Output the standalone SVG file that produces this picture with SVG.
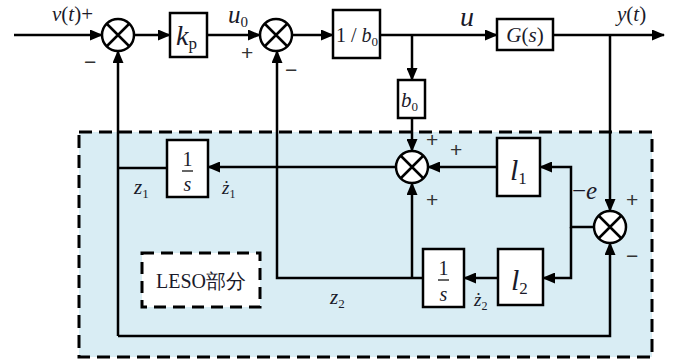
<svg xmlns="http://www.w3.org/2000/svg" width="677" height="361" viewBox="0 0 677 361">
<style>
.ln{fill:none;stroke:#000;stroke-width:2.5}
.bx{fill:#fff;stroke:#000;stroke-width:2.5}
.sj{fill:#fff;stroke:#000;stroke-width:2.5}
.t{font-family:"Liberation Serif",serif;fill:#1a1a2a}
.i{font-style:italic}
.sg{font-family:"Liberation Sans",sans-serif;fill:#333;font-size:21px}
</style>
<defs>
<marker id="a" markerWidth="13" markerHeight="11" refX="12" refY="5.5" orient="auto" markerUnits="userSpaceOnUse">
<path d="M0,0 L13,5.5 L0,11 Z" fill="#000"/>
</marker>
<symbol id="x" viewBox="-17 -17 34 34" overflow="visible">
<circle r="16" class="sj"/>
<path d="M-11,-11 L11,11 M-11,11 L11,-11" stroke="#000" stroke-width="2.5"/>
</symbol>
</defs>
<rect width="677" height="361" fill="#fff"/>
<g id="leso-region">
<rect x="79" y="132" width="573" height="225" fill="#d9edf4" stroke="#000" stroke-width="3" stroke-dasharray="13 7"/>
</g>
<g id="connectors">
<path class="ln" d="M14,35 H102" marker-end="url(#a)"/>
<path class="ln" d="M134,35 H170" marker-end="url(#a)"/>
<path class="ln" d="M207,35 H260" marker-end="url(#a)"/>
<path class="ln" d="M292,35 H333" marker-end="url(#a)"/>
<path class="ln" d="M380,35 H497" marker-end="url(#a)"/>
<path class="ln" d="M412,35 V80" marker-end="url(#a)"/>
<path class="ln" d="M553,35 H664" marker-end="url(#a)"/>
<path class="ln" d="M610,35 V211" marker-end="url(#a)"/>
<path class="ln" d="M412,118 V151" marker-end="url(#a)"/>
<path class="ln" d="M594,227 H571 V167 H540" marker-end="url(#a)"/>
<path class="ln" d="M571,227 V278 H543" marker-end="url(#a)"/>
<path class="ln" d="M497,167 H428" marker-end="url(#a)"/>
<path class="ln" d="M498,278 H464" marker-end="url(#a)"/>
<path class="ln" d="M423,278 H277 V51" marker-end="url(#a)"/>
<path class="ln" d="M412,278 V183" marker-end="url(#a)"/>
<path class="ln" d="M396,167 H208" marker-end="url(#a)"/>
<path class="ln" d="M167,168 H118"/>
<path class="ln" d="M118,336 V51" marker-end="url(#a)"/>
<path class="ln" d="M118,336 H610 V243" marker-end="url(#a)"/>
</g>
<g id="sum1"><use href="#x" x="101" y="18" width="34" height="34"/></g>
<g id="sum2"><use href="#x" x="259" y="18" width="34" height="34"/></g>
<g id="sum3"><use href="#x" x="395" y="150" width="34" height="34"/></g>
<g id="sum4"><use href="#x" x="593" y="210" width="34" height="34"/></g>
<g id="kp">
<rect class="bx" x="170" y="13" width="37" height="44"/>
<text class="t" x="176" y="45" font-size="28"><tspan class="i">k</tspan><tspan font-size="17" dy="4">p</tspan></text>
</g>
<g id="inv-b0">
<rect class="bx" x="333" y="10" width="47" height="48"/>
<text class="t" x="336" y="42" font-size="20">1 / <tspan class="i">b</tspan><tspan font-size="13" dy="4">0</tspan></text>
</g>
<g id="b0">
<rect class="bx" x="398" y="80" width="27" height="38"/>
<text class="t" x="401" y="107" font-size="21"><tspan class="i">b</tspan><tspan font-size="13" dy="4">0</tspan></text>
</g>
<g id="Gs">
<rect class="bx" x="497" y="19" width="56" height="31"/>
<text class="t" x="525" y="42" font-size="21" text-anchor="middle"><tspan class="i">G</tspan>(<tspan class="i">s</tspan>)</text>
</g>
<g id="l1">
<rect class="bx" x="497" y="138" width="43" height="58"/>
<text class="t i" x="510" y="180" font-size="30">l<tspan font-size="17" dy="4" font-style="normal">1</tspan></text>
</g>
<g id="l2">
<rect class="bx" x="498" y="249" width="45" height="56"/>
<text class="t i" x="511" y="290" font-size="30">l<tspan font-size="17" dy="4" font-style="normal">2</tspan></text>
</g>
<g id="int1">
<rect class="bx" x="167" y="140" width="41" height="57"/>
<text class="t" x="187.5" y="166" font-size="20" text-anchor="middle">1</text>
<path d="M182,171 H193" stroke="#000" stroke-width="1.2"/>
<text class="t i" x="187.5" y="191" font-size="20" text-anchor="middle">s</text>
</g>
<g id="int2">
<rect class="bx" x="423" y="249" width="41" height="58"/>
<text class="t" x="443.5" y="275" font-size="20" text-anchor="middle">1</text>
<path d="M438,280 H449" stroke="#000" stroke-width="1.2"/>
<text class="t i" x="443.5" y="301" font-size="20" text-anchor="middle">s</text>
</g>
<g id="leso-label">
<rect x="142" y="253" width="118" height="54" fill="#fff" stroke="#000" stroke-width="3" stroke-dasharray="12 7"/>
<text class="t" x="201" y="288" font-size="20" text-anchor="middle" font-family="'Liberation Serif','Noto Sans CJK SC',serif">LESO部分</text>
</g>
<g id="labels">
<text class="t" x="52" y="21" font-size="21"><tspan class="i">v</tspan>(<tspan class="i">t</tspan>)+</text>
<text class="sg" x="84" y="69">−</text>
<text class="t" x="228" y="23" font-size="25"><tspan class="i">u</tspan><tspan font-size="15" dy="4">0</tspan></text>
<text class="sg" x="241" y="60">+</text>
<text class="sg" x="285" y="77">−</text>
<text class="t i" x="460" y="26" font-size="28">u</text>
<text class="t" x="617" y="21" font-size="21"><tspan class="i">y</tspan>(<tspan class="i">t</tspan>)</text>
<text class="sg" x="426" y="147">+</text>
<text class="sg" x="450" y="157">+</text>
<text class="sg" x="426" y="207">+</text>
<text class="t" x="572" y="199" font-size="25">−<tspan class="i">e</tspan></text>
<text class="sg" x="626" y="207">+</text>
<text class="sg" x="626" y="263">−</text>
<text class="t i" x="134" y="194" font-size="21">z<tspan font-size="13" dy="4" font-style="normal">1</tspan></text>
<text class="t i" x="222" y="194" font-size="19">ż<tspan font-size="12" dy="4" font-style="normal">1</tspan></text>
<text class="t i" x="330" y="304" font-size="21">z<tspan font-size="13" dy="4" font-style="normal">2</tspan></text>
<text class="t i" x="474" y="306" font-size="19">ż<tspan font-size="12" dy="4" font-style="normal">2</tspan></text>
</g>
</svg>
